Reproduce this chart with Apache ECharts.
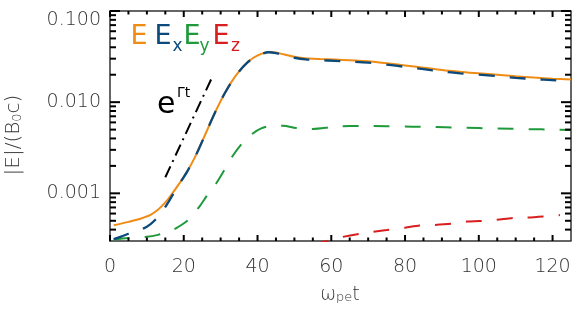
<!DOCTYPE html>
<html><head><meta charset="utf-8">
<script src="https://cdn.jsdelivr.net/npm/echarts@6/dist/echarts.min.js"></script>
<style>html,body{margin:0;padding:0;background:#fff}#c{width:581px;height:310px}</style>
</head><body><div id="c"></div>
<script>
// ---- data ----
const tE  = [1,3,5,7,9,11,13,15,17,19,21,23,25,27,29,31,33,35,37,39,41,43,45,47,50,53,57,61,65,70,75,80,85,90,95,100,105,110,115,120,125];
const vE  = [4.47e-4,4.65e-4,4.86e-4,5.09e-4,5.4e-4,5.82e-4,6.61e-4,7.94e-4,1.012e-3,1.318e-3,1.754e-3,2.477e-3,3.715e-3,5.675e-3,8.51e-3,1.23e-2,1.679e-2,2.173e-2,2.661e-2,3.09e-2,3.39e-2,3.556e-2,3.5e-2,3.35e-2,3.15e-2,3.03e-2,2.97e-2,2.93e-2,2.88e-2,2.81e-2,2.67e-2,2.53e-2,2.39e-2,2.25e-2,2.15e-2,2.07e-2,2.0e-2,1.92e-2,1.86e-2,1.81e-2,1.77e-2];

const tEx = [1,3,5,7,9,11,13,15,17,19,21,23,25,27,29,31,33,35,37,39,41,43,45,47,50,53,57,61,65,70,75,80,85,90,95,100,105,110,115,121];
const vEx = [3.15e-4,3.35e-4,3.6e-4,3.85e-4,4.1e-4,4.6e-4,5.5e-4,7.1e-4,9.6e-4,1.3e-3,1.754e-3,2.477e-3,3.715e-3,5.675e-3,8.51e-3,1.23e-2,1.679e-2,2.173e-2,2.661e-2,3.08e-2,3.37e-2,3.53e-2,3.45e-2,3.27e-2,3.07e-2,2.95e-2,2.89e-2,2.84e-2,2.79e-2,2.72e-2,2.58e-2,2.44e-2,2.3e-2,2.17e-2,2.07e-2,2.0e-2,1.93e-2,1.85e-2,1.79e-2,1.73e-2];

const tEy = [1,5,10,13,16,18,20.7,22.5,24.3,26.5,28.8,31,33.3,36,38.8,41,43,46.9,50.5,55,60.5,65,75,82,91,100,109,117,125];
const vEy = [3.1e-4,3.23e-4,3.33e-4,3.5e-4,3.8e-4,4.16e-4,4.9e-4,5.9e-4,7.2e-4,9.7e-4,1.29e-3,1.8e-3,2.58e-3,3.6e-3,4.56e-3,5.15e-3,5.45e-3,5.52e-3,5.2e-3,5.08e-3,5.35e-3,5.48e-3,5.45e-3,5.38e-3,5.3e-3,5.2e-3,5.1e-3,5.03e-3,4.96e-3];

const tEz = [55,59,63,67.7,75,80,84,88,92.6,96.7,100.3,104.8,109.3,113,117.5,122];
const vEz = [2.75e-4,3.0e-4,3.32e-4,3.6e-4,3.95e-4,4.2e-4,4.45e-4,4.5e-4,4.64e-4,4.9e-4,4.97e-4,5.13e-4,5.38e-4,5.42e-4,5.57e-4,5.77e-4];

const tFit = [15.0, 27.7];
const vFit = [1.5e-3, 1.88e-2];

const yMajorTicks = [0.001, 0.01, 0.1];
const yMinorTicks = [0.0004,0.0005,0.0006,0.0007,0.0008,0.0009,0.002,0.003,0.004,0.005,0.006,0.007,0.008,0.009,0.02,0.03,0.04,0.05,0.06,0.07,0.08,0.09];
const xMajorTicks = [0,20,40,60,80,100,120];
const xMinorTicks = [5,10,15,25,30,35,45,50,55,65,70,75,85,90,95,105,110,115];

// ---- styling ----
const FONT = 'DejaVu Sans';
const AX = '#333';
const C_E = '#f08c14', C_X = '#0c4a7c', C_Y = '#1e9a3a', C_Z = '#d81e1e';
const X0 = 0, X1 = 125, Y0 = 0.0003, Y1 = 0.1;

const pair = (t, v) => t.map((x, i) => [x, v[i]]);
function isPow10(v) { const l = Math.log10(v); return Math.abs(l - Math.round(l)) < 1e-6; }

// tick marks: [kind, value]; kind 0 = x major, 1 = x minor, 2 = y major, 3 = y minor
const tickData = []
  .concat(xMajorTicks.map(v => [0, v]))
  .concat(xMinorTicks.map(v => [1, v]))
  .concat(yMajorTicks.map(v => [2, v]))
  .concat(yMinorTicks.map(v => [3, v]));

function tickRender(params, api) {
  const kind = api.value(0), v = api.value(1);
  const st = { stroke: '#000', lineWidth: 2 };
  if (kind <= 1) {
    const len = kind === 0 ? 6 : 3.5;
    const pb = api.coord([v, Y0]), pt = api.coord([v, Y1]);
    return { type: 'group', children: [
      { type: 'line', shape: { x1: pb[0], y1: pb[1], x2: pb[0], y2: pb[1] - len }, style: st },
      { type: 'line', shape: { x1: pt[0], y1: pt[1], x2: pt[0], y2: pt[1] + len }, style: st }
    ]};
  }
  const len = kind === 2 ? 10 : 6;
  const pl = api.coord([X0, v]), pr = api.coord([X1, v]);
  return { type: 'group', children: [
    { type: 'line', shape: { x1: pl[0], y1: pl[1], x2: pl[0] + len, y2: pl[1] }, style: st },
    { type: 'line', shape: { x1: pr[0], y1: pr[1], x2: pr[0] - len, y2: pr[1] }, style: st }
  ]};
}

const chart = echarts.init(document.getElementById('c'));
chart.setOption({
  animation: false,
  grid: { left: 110, right: 10, top: 11, bottom: 69 },
  xAxis: [{
    type: 'value', min: X0, max: X1, interval: 20,
    axisLine: { show: true, lineStyle: { color: AX, width: 1.5 } },
    axisTick: { show: false },
    axisLabel: { show: true, margin: 17, color: AX, fontFamily: FONT, fontSize: 19, fontWeight: 300,
      formatter: v => xMajorTicks.indexOf(v) >= 0 ? String(v) : '' },
    splitLine: { show: false }
  }, {
    type: 'value', position: 'top', min: X0, max: X1, interval: 20,
    axisLine: { show: true, lineStyle: { color: AX, width: 1.5 } },
    axisTick: { show: false }, axisLabel: { show: false }, splitLine: { show: false }
  }],
  yAxis: [{
    type: 'log', min: Y0, max: Y1,
    axisLine: { show: true, lineStyle: { color: AX, width: 1.5 } },
    axisTick: { show: false },
    axisLabel: { show: true, margin: 9, color: AX, fontFamily: FONT, fontSize: 19, fontWeight: 300,
      formatter: v => { if (!isPow10(v)) return ''; const s = v.toFixed(3); return v > 0.05 ? '{t|' + s + '}' : s; },
      rich: { t: { fontFamily: FONT, fontSize: 19, fontWeight: 300, color: AX, padding: [18, 0, 0, 0] } } },
    splitLine: { show: false }
  }],
  series: [
    { type: 'custom', clip: false, silent: true, z: 10, data: tickData, renderItem: tickRender },
    { type: 'line', data: pair(tEz, vEz), showSymbol: false, smooth: 0.3, lineStyle: { color: C_Z, width: 2, type: [16, 15] } },
    { type: 'line', data: pair(tEy, vEy), showSymbol: false, smooth: 0.3, lineStyle: { color: C_Y, width: 2, type: [16, 15] } },
    { type: 'line', data: pair(tE, vE), showSymbol: false, smooth: 0.3, lineStyle: { color: C_E, width: 2 } },
    { type: 'line', data: pair(tEx, vEx), showSymbol: false, smooth: 0.3, lineStyle: { color: C_X, width: 2.3, type: [16, 15] } },
    { type: 'line', data: pair(tFit, vFit), showSymbol: false, lineStyle: { color: '#000', width: 2, type: [12, 5, 2, 5] } }
  ]
});

chart.setOption({ graphic: [
  // right-hand frame line
  { type: 'line', silent: true, shape: { x1: 571, y1: 11, x2: 571, y2: 241 }, style: { stroke: AX, lineWidth: 1.5 } },
  // legend
  { type: 'text', x: 130.4, y: 37, style: { text: 'E', fill: C_E, font: '27px "DejaVu Sans"', verticalAlign: 'middle' } },
  { type: 'text', x: 154.4, y: 37, style: { text: 'E', fill: C_X, font: '27px "DejaVu Sans"', verticalAlign: 'middle' } },
  { type: 'text', x: 172.5, y: 47, style: { text: 'x', fill: C_X, font: '17px "DejaVu Sans"', verticalAlign: 'middle' } },
  { type: 'text', x: 183.4, y: 37, style: { text: 'E', fill: C_Y, font: '27px "DejaVu Sans"', verticalAlign: 'middle' } },
  { type: 'text', x: 199.5, y: 47, style: { text: 'y', fill: C_Y, font: '17px "DejaVu Sans"', verticalAlign: 'middle' } },
  { type: 'text', x: 212.4, y: 37, style: { text: 'E', fill: C_Z, font: '27px "DejaVu Sans"', verticalAlign: 'middle' } },
  { type: 'text', x: 231.0, y: 47, style: { text: 'z', fill: C_Z, font: '17px "DejaVu Sans"', verticalAlign: 'middle' } },
  // growth annotation
  { type: 'text', x: 157, y: 105, style: { text: 'e', fill: '#000', font: '30px "DejaVu Sans"', verticalAlign: 'middle' } },
  { type: 'text', x: 177, y: 93, style: { text: 'Γt', fill: '#000', font: '14px "DejaVu Sans"', verticalAlign: 'middle' } },
  // axis names
  { type: 'text', x: 340, y: 295, style: {
      text: 'ω{s|pe}t', align: 'center', verticalAlign: 'middle', fill: AX,
      font: '300 19px "DejaVu Sans"',
      rich: { s: { fontSize: 13, fontFamily: FONT, fontWeight: 300, fill: AX, verticalAlign: 'bottom', lineHeight: 2 } }
  } },
  { type: 'text', x: 14, y: 135, rotation: Math.PI / 2, style: {
      text: '|E|/(B{s|0}c)', align: 'center', verticalAlign: 'middle', fill: AX,
      font: '300 20px "DejaVu Sans"',
      rich: { s: { fontSize: 13, fontFamily: FONT, fontWeight: 300, fill: AX, verticalAlign: 'bottom', lineHeight: 2 } }
  } }
] });
</script></body></html>
